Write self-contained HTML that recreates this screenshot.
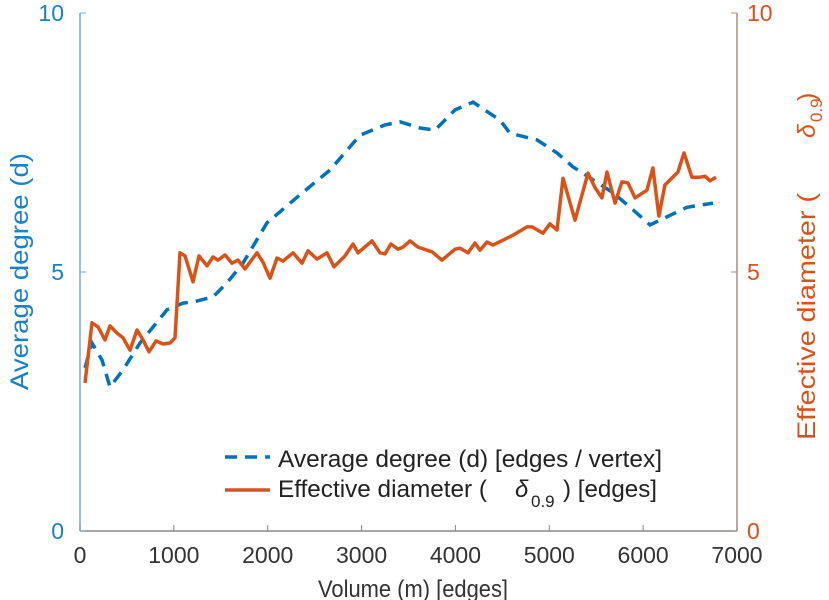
<!DOCTYPE html>
<html><head><meta charset="utf-8"><style>
html,body{margin:0;padding:0;background:#fff;}
svg{display:block;font-family:"Liberation Sans",sans-serif;}
</style></head><body>
<svg id="chart" width="829" height="600" viewBox="0 0 829 600" xmlns="http://www.w3.org/2000/svg"></svg>
<script>
const xTicks=[0,1000,2000,3000,4000,5000,6000,7000];
const yTicksLeft=[0,5,10];
const yTicksRight=[0,5,10];
const degX=[53,128,234,320,458,639,927,1097,1204,1417,1566,1736,1992,2344,2664,2983,3250,3409,3622,3782,3995,4187,4475,4581,4869,5082,5252,5466,5679,5892,6073,6179,6467,6744];
const degY=[3.15,3.63,3.30,2.78,3.11,3.63,4.27,4.40,4.42,4.52,4.79,5.17,5.95,6.49,6.97,7.64,7.84,7.90,7.78,7.74,8.13,8.28,7.93,7.68,7.55,7.30,7.03,6.78,6.53,6.20,5.91,6.00,6.25,6.33];
const diaX=[53,128,192,266,320,394,458,533,607,671,735,810,884,959,1012,1065,1119,1204,1268,1353,1417,1470,1545,1619,1683,1758,1886,1950,2024,2099,2163,2269,2365,2429,2525,2632,2706,2823,2909,2962,3111,3196,3250,3313,3388,3441,3516,3601,3750,3857,3995,4049,4134,4208,4262,4336,4400,4613,4762,4816,4933,5007,5082,5146,5274,5412,5487,5561,5615,5700,5774,5838,5913,5998,6040,6104,6168,6232,6371,6435,6520,6605,6659,6712,6776];
const diaY=[2.86,4.02,3.94,3.69,3.96,3.82,3.73,3.49,3.88,3.69,3.46,3.67,3.61,3.63,3.73,5.37,5.31,4.81,5.31,5.12,5.29,5.23,5.33,5.17,5.23,5.06,5.37,5.19,4.88,5.27,5.21,5.37,5.17,5.41,5.25,5.37,5.10,5.31,5.54,5.37,5.60,5.37,5.35,5.54,5.44,5.48,5.60,5.48,5.39,5.23,5.44,5.46,5.37,5.56,5.42,5.58,5.52,5.71,5.87,5.87,5.75,5.93,5.81,6.81,6.00,6.91,6.63,6.43,6.93,6.33,6.74,6.72,6.43,6.53,6.58,7.01,6.08,6.68,6.93,7.30,6.83,6.83,6.85,6.76,6.83];

const L=80,R=737,T=13,B=531;
const sx=v=>L+(v-0)/7000*(R-L);
const syL=v=>B-v/10*(B-T);
const syR=v=>B-v/10*(B-T);
const svg=document.getElementById('chart');
const NS='http://www.w3.org/2000/svg';
function mk(tag,attrs,parent){const e=document.createElementNS(NS,tag);for(const k in attrs)e.setAttribute(k,attrs[k]);(parent||svg).appendChild(e);return e;}

let e;
e=mk('line',{x1:L,y1:B,x2:R,y2:B,stroke:'#888','stroke-width':1.5});


e=mk('line',{x1:L,y1:T,x2:L,y2:B,stroke:'#6aaedc','stroke-width':1.5});


e=mk('line',{x1:R,y1:T,x2:R,y2:B,stroke:'#b08a80','stroke-width':1.5});



xTicks.forEach(t=>{
  const x=sx(t);
  e=mk('line',{x1:x,y1:B,x2:x,y2:B-6,stroke:'#888','stroke-width':1});
  
  
  e=mk('text',{x:x,y:563,'font-size':23,fill:'#333','text-anchor':'middle'});
  e.textContent=t;
  
  
});
yTicksLeft.forEach(t=>{
  const y=syL(t);
  e=mk('line',{x1:L,y1:y,x2:L+6,y2:y,stroke:'#6aaedc','stroke-width':1});
  
  
  e=mk('text',{x:L-16,y:y+8,'font-size':23,fill:'#1a80c8','text-anchor':'end'});
  e.textContent=t;
  
  
});
yTicksRight.forEach(t=>{
  const y=syR(t);
  e=mk('line',{x1:R,y1:y,x2:R-6,y2:y,stroke:'#b08a80','stroke-width':1});
  
  
  e=mk('text',{x:R+10,y:y+8,'font-size':23,fill:'#d95319','text-anchor':'start'});
  e.textContent=t;
  
  
});

e=mk('text',{x:318,y:597,'font-size':24,fill:'#333',textLength:190,lengthAdjust:'spacingAndGlyphs'});
e.textContent='Volume (m) [edges]';


e=mk('text',{x:-390,y:28,'font-size':25,fill:'#1a80c8',transform:'rotate(-90)',textLength:237,lengthAdjust:'spacingAndGlyphs'});
e.textContent='Average degree (d)';



const rt=mk('g',{fill:'#d95319',transform:'rotate(-90)'});


e=mk('text',{x:-440,y:815,'font-size':25,textLength:247,lengthAdjust:'spacingAndGlyphs'},rt);
e.textContent='Effective diameter (';


e=mk('text',{x:-138,y:815,'font-size':25,'font-style':'italic'},rt);
e.textContent='δ';


e=mk('text',{x:-122,y:822,'font-size':17},rt);
e.textContent='0.9';


e=mk('text',{x:-101,y:815,'font-size':25},rt);
e.textContent=')';



function path(xs,ys,sy){return xs.map((v,i)=>(i?'L':'M')+sx(v).toFixed(1)+','+sy(ys[i]).toFixed(1)).join('');}
e=mk('path',{d:path(degX,degY,syL),fill:'none',stroke:'#0072BD','stroke-width':3.5,'stroke-dasharray':'12,8'});


e=mk('path',{d:path(diaX,diaY,syR),fill:'none',stroke:'#D95319','stroke-width':3.5,'stroke-linejoin':'round'});



const lg=mk('g',{fill:'#222'});


e=mk('line',{x1:225,y1:457,x2:270,y2:457,stroke:'#0072BD','stroke-width':3.5,'stroke-dasharray':'12,8'},lg);


e=mk('text',{x:278,y:467,'font-size':24,textLength:384,lengthAdjust:'spacingAndGlyphs'},lg);
e.textContent='Average degree (d) [edges / vertex]';


e=mk('line',{x1:225,y1:490,x2:270,y2:490,stroke:'#D95319','stroke-width':3.5},lg);


e=mk('text',{x:278,y:497,'font-size':24,textLength:209,lengthAdjust:'spacingAndGlyphs'},lg);
e.textContent='Effective diameter (';


e=mk('text',{x:515,y:497,'font-size':24,'font-style':'italic'},lg);
e.textContent='δ';


e=mk('text',{x:531,y:507,'font-size':17},lg);
e.textContent='0.9';


e=mk('text',{x:563,y:497,'font-size':24,textLength:94,lengthAdjust:'spacingAndGlyphs'},lg);
e.textContent=') [edges]';


</script>
</body></html>
